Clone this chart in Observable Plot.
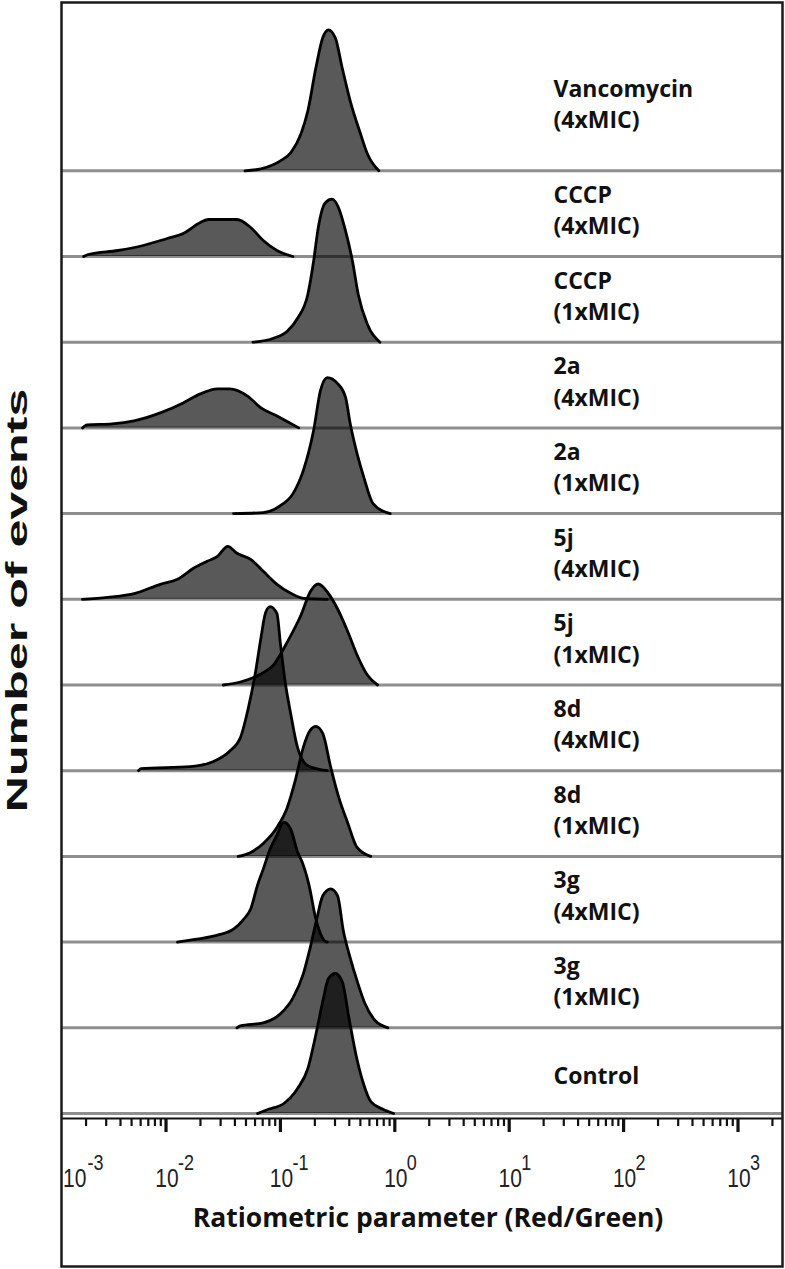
<!DOCTYPE html>
<html>
<head>
<meta charset="utf-8">
<script src="https://cdn.jsdelivr.net/npm/d3@7"></script>
<script src="https://cdn.jsdelivr.net/npm/@observablehq/plot@0.6"></script>
<style>
  body { margin: 0; background: #fff; }
  #chart svg { display: block; }
</style>
</head>
<body>
<div id="chart"></div>
<script>
// ---- categories (top to bottom) ----
const samples = ["Vancomycin (4xMIC)", "CCCP (4xMIC)", "CCCP (1xMIC)", "2a (4xMIC)", "2a (1xMIC)",
  "5j (4xMIC)", "5j (1xMIC)", "8d (4xMIC)", "8d (1xMIC)", "3g (4xMIC)", "3g (1xMIC)", "Control"];
const sampleLabels = ["Vancomycin\n(4xMIC)", "CCCP\n(4xMIC)", "CCCP\n(1xMIC)", "2a\n(4xMIC)", "2a\n(1xMIC)",
  "5j\n(4xMIC)", "5j\n(1xMIC)", "8d\n(4xMIC)", "8d\n(1xMIC)", "3g\n(4xMIC)", "3g\n(1xMIC)", "Control"];

// ---- histograms: [log10(Red/Green), number of events (a.u.)] ----
const vancomycin4x = [[-1.31,0],[-1.17,2],[-1.00,10],[-0.91,18],[-0.82,37],[-0.76,60],[-0.69,103],[-0.63,133],[-0.58,141],[-0.52,133],[-0.46,103],[-0.39,70],[-0.30,37],[-0.24,17],[-0.14,0]];
const cccp4x = [[-2.72,0],[-2.68,2],[-2.42,6],[-2.20,11],[-1.99,18],[-1.85,23],[-1.70,34],[-1.63,37],[-1.38,37],[-1.26,29],[-1.15,16],[-1.03,6],[-0.89,0]];
const cccp1x = [[-1.24,0],[-1.06,4],[-0.94,11],[-0.85,24],[-0.76,48],[-0.71,81],[-0.67,114],[-0.61,139],[-0.55,143],[-0.49,134],[-0.43,111],[-0.37,81],[-0.32,48],[-0.24,18],[-0.13,0]];
const a2_4x = [[-2.73,0],[-2.69,3],[-2.47,4],[-2.28,7],[-2.05,15],[-1.85,25],[-1.70,34],[-1.55,39],[-1.44,39],[-1.29,32],[-1.17,20],[-1.03,12],[-0.84,0]];
const a2_1x = [[-1.41,0],[-1.15,1],[-1.00,8],[-0.89,20],[-0.80,43],[-0.71,83],[-0.65,123],[-0.59,136],[-0.50,130],[-0.43,116],[-0.39,90],[-0.33,60],[-0.27,36],[-0.19,10],[-0.04,0]];
const j5_4x = [[-2.73,0],[-2.51,2],[-2.27,6],[-2.05,15],[-1.90,20],[-1.76,31],[-1.64,38],[-1.55,43],[-1.46,53],[-1.38,46],[-1.26,40],[-1.15,28],[-1.03,15],[-0.91,6],[-0.80,1],[-0.59,0]];
const j5_1x = [[-1.50,0],[-1.35,3],[-1.17,11],[-1.06,20],[-0.94,43],[-0.82,70],[-0.74,93],[-0.67,101],[-0.59,93],[-0.50,76],[-0.41,53],[-0.33,30],[-0.24,10],[-0.15,0]];
const d8_4x = [[-2.24,0],[-2.22,2],[-1.79,4],[-1.59,9],[-1.44,20],[-1.35,33],[-1.28,63],[-1.22,97],[-1.17,133],[-1.13,158],[-1.09,164],[-1.03,157],[-1.00,127],[-0.96,90],[-0.91,57],[-0.85,23],[-0.76,5],[-0.59,0]];
const d8_1x = [[-1.37,0],[-1.26,4],[-1.15,13],[-1.03,29],[-0.94,49],[-0.87,76],[-0.80,109],[-0.74,126],[-0.69,130],[-0.63,123],[-0.56,89],[-0.49,59],[-0.41,33],[-0.33,9],[-0.21,0]];
const g3_4x = [[-1.90,0],[-1.73,3],[-1.55,7],[-1.41,13],[-1.32,23],[-1.26,33],[-1.20,57],[-1.15,73],[-1.09,93],[-1.03,107],[-0.97,120],[-0.91,113],[-0.85,90],[-0.81,80],[-0.75,57],[-0.69,23],[-0.62,2],[-0.59,0]];
const g3_1x = [[-1.38,0],[-1.35,2],[-1.15,5],[-1.00,14],[-0.89,30],[-0.80,54],[-0.74,80],[-0.68,110],[-0.63,132],[-0.56,139],[-0.50,132],[-0.45,97],[-0.39,70],[-0.33,47],[-0.26,24],[-0.17,7],[-0.06,0]];
const control = [[-1.20,0],[-1.11,4],[-0.97,10],[-0.85,25],[-0.76,45],[-0.69,79],[-0.63,112],[-0.58,135],[-0.52,140],[-0.46,132],[-0.40,95],[-0.34,59],[-0.28,32],[-0.21,12],[-0.10,4],[-0.01,0]];
const histograms = [vancomycin4x, cccp4x, cccp1x, a2_4x, a2_1x, j5_4x, j5_1x, d8_4x, d8_1x, g3_4x, g3_1x, control];

// ---- axis ticks ----
const majorTicks = [1e-3, 1e-2, 1e-1, 1e0, 1e1, 1e2, 1e3];
const tickExponents = ["-3", "-2", "-1", "0", "1", "2", "3"];
const minorMultipliers = [2, 3, 4, 5, 6, 7, 8, 9];
const xTitle = "Ratiometric parameter (Red/Green)";
const yTitle = "Number of events";

// ---- layout constants ----
const STEP = 85.7;          // vertical offset between stacked histograms (event units)
const yMin = -5, yMax = 1111;
const xDomain = [0.00122, 2449];
const n = samples.length;

const rows = histograms.flatMap((h, i) => h.map(([lx, ev]) => ({
  sample: samples[i],
  x: Math.pow(10, lx),
  base: (n - 1 - i) * STEP,
  top: (n - 1 - i) * STEP + ev
})));
const baselines = samples.map((s, i) => (n - 1 - i) * STEP);
const labelRows = samples.map((s, i) => ({
  label: sampleLabels[i],
  y: (n - 1 - i) * STEP + (i === 0 ? 68 : i === n - 1 ? 40 : 48)
}));
const inDomain = v => v >= xDomain[0] && v <= xDomain[1];
const minorTicks = majorTicks.flatMap(d => minorMultipliers.map(m => d * m)).filter(inDomain);
const majorIn = majorTicks.filter(inDomain);
const tickRows = majorTicks.map((v, i) => ({v, exp: tickExponents[i]}));
const firstTick = tickRows.filter(d => !inDomain(d.v));
const otherTicks = tickRows.filter(d => inDomain(d.v));

const labelFont = "'Open Sans', 'Noto Sans', sans-serif";
const numFont = "'Liberation Sans', Arial, sans-serif";

const chart = Plot.plot({
  width: 785,
  height: 1269,
  marginLeft: 61,
  marginRight: 3,
  marginTop: 2,
  marginBottom: 151,
  x: {type: "log", domain: xDomain},
  y: {domain: [yMin, yMax], axis: null},
  style: {fontFamily: numFont, background: "#fff", overflow: "visible", color: "#111"},
  marks: [
    Plot.ruleY(baselines, {stroke: "#8e8e8e", strokeWidth: 3}),
    Plot.areaY(rows, {x: "x", y1: "base", y2: "top", z: "sample", fill: "#000", fillOpacity: 0.65, curve: "monotone-x"}),
    Plot.lineY(rows, {x: "x", y: "top", z: "sample", stroke: "#000", strokeWidth: 2.8, strokeLinejoin: "round", curve: "monotone-x"}),
    Plot.ruleY([yMin], {stroke: "#111", strokeWidth: 2}),
    Plot.axisX({ticks: majorIn, tickSize: 14, strokeWidth: 3.2, stroke: "#111", tickFormat: () => "", label: null}),
    Plot.axisX({ticks: minorTicks, tickSize: 8, strokeWidth: 2.2, stroke: "#111", tickFormat: () => "", label: null}),
    // tick labels "10" with exponents
    Plot.text(otherTicks, {x: "v", text: () => "10", frameAnchor: "bottom", lineAnchor: "top", dy: 51, dx: 1, fontSize: 21, fill: "#222", ariaDescription: "tickten"}),
    Plot.text(firstTick, {x: "v", text: () => "10", frameAnchor: "bottom", lineAnchor: "top", dy: 51, dx: 23, fontSize: 21, fill: "#222", ariaDescription: "tickten"}),
    Plot.text(otherTicks, {x: "v", text: "exp", frameAnchor: "bottom", lineAnchor: "top", textAnchor: "start", dy: 36, dx: 12, fontSize: 18, fill: "#222", ariaDescription: "tickten"}),
    Plot.text(firstTick, {x: "v", text: "exp", frameAnchor: "bottom", lineAnchor: "top", textAnchor: "start", dy: 36, dx: 36, fontSize: 18, fill: "#222", ariaDescription: "tickten"}),
    // axis titles
    Plot.text([xTitle], {frameAnchor: "bottom", lineAnchor: "top", textAnchor: "middle", dy: 90, dx: 6, fontFamily: labelFont, fontWeight: "bold", fontSize: 26.5, fill: "#111"}),
    Plot.text([yTitle], {frameAnchor: "left", rotate: -90, textAnchor: "middle", dx: -44, dy: 40, fontFamily: numFont, fontWeight: "bold", fontSize: 29, fill: "#111", ariaDescription: "ytitle"}),
    // sample labels
    Plot.text(labelRows, {y: "y", text: "label", frameAnchor: "right", textAnchor: "start", dx: -229, lineHeight: 1.36, fontFamily: labelFont, fontWeight: "bold", fontSize: 23, fill: "#111"}),
    Plot.frame({stroke: "#1a1a1a", strokeWidth: 2.5, insetBottom: -148})
  ]
});

function stretch(desc, sx, sy) {
  chart.querySelectorAll(`g[aria-description="${desc}"] text`).forEach(el => {
    const t = el.getAttribute("transform") || "";
    el.setAttribute("transform", `${t} scale(${sx},${sy})`);
  });
}
stretch("tickten", 1, 1.2);
stretch("ytitle", 1.73, 1);

document.getElementById("chart").appendChild(chart);
</script>
</body>
</html>
